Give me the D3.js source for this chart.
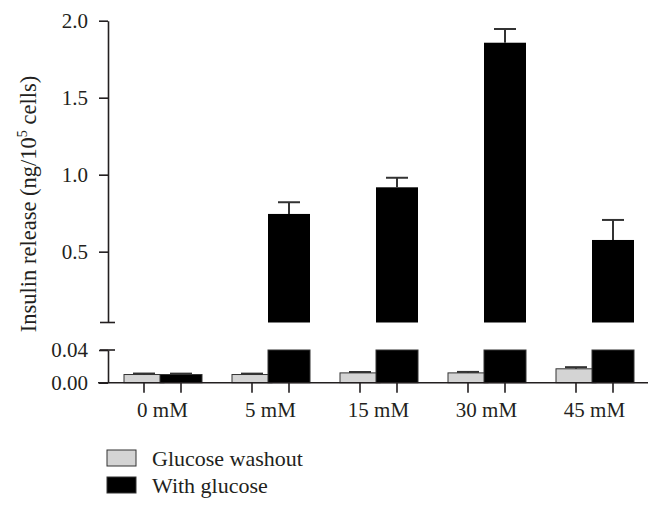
<!DOCTYPE html>
<html>
<head>
<meta charset="utf-8">
<script src="https://cdn.jsdelivr.net/npm/d3@7"></script>
<style>
  body { margin: 0; background: #fff; }
  svg text { font-family: "Liberation Serif", "Times New Roman", serif; fill: #231f20; }
</style>
</head>
<body>
<div id="chart"></div>
<script>
// groups on the x axis
var categories = ['0 mM', '5 mM', '15 mM', '30 mM', '45 mM'];
var seriesNames = ['Glucose washout', 'With glucose'];
// means and upper error (SEM), ng/10^5 cells
var washoutMean = [0.010, 0.010, 0.012, 0.012, 0.017];
var washoutErr = [0.0012, 0.0011, 0.0011, 0.0012, 0.002];
var glucoseMean = [0.010, 0.745, 0.918, 1.857, 0.576];
var glucoseErr = [0.0011, 0.076, 0.062, 0.089, 0.130];
// ticks of the two parts of the broken y axis
var upperTicks = [0.5, 1.0, 1.5, 2.0];
var lowerTicks = [0.00, 0.04];

var width = 662, height = 513;
var axisX = 108;
var breakAt = 0.04;

var svg = d3.select('#chart').append('svg')
  .attr('width', width)
  .attr('height', height);

// scales
var x = d3.scaleBand().domain(categories).range([108.5, 648.5]);
var xSub = d3.scaleBand().domain(seriesNames).range([-37, 37]);
var yTop = d3.scaleLinear().domain([breakAt, 2.0]).range([322.5, 20.7]);
var yBot = d3.scaleLinear().domain([0, breakAt]).range([382.7, 350]);
var fills = ['#d4d4d4', '#000000'];
var barW = [40, 42];

function subCenter(cat, s) {
  return x(cat) + x.bandwidth() / 2 + xSub(s) + xSub.bandwidth() / 2;
}

var rows = [];
categories.forEach(function (c, i) {
  rows.push({ cat: c, s: 0, v: washoutMean[i], e: washoutErr[i] });
  rows.push({ cat: c, s: 1, v: glucoseMean[i], e: glucoseErr[i] });
});

// bars in the lower part (clipped at the break)
svg.append('g').selectAll('rect')
  .data(rows)
  .enter().append('rect')
    .attr('x', function (d) { return subCenter(d.cat, seriesNames[d.s]) - barW[d.s] / 2; })
    .attr('y', function (d) { return yBot(Math.min(d.v, breakAt)); })
    .attr('width', function (d) { return barW[d.s]; })
    .attr('height', function (d) { return yBot(0) - yBot(Math.min(d.v, breakAt)); })
    .attr('fill', function (d) { return fills[d.s]; })
    .attr('stroke', '#333')
    .attr('stroke-width', 1);

// bars in the upper part (only the ones that cross the break)
var tall = rows.filter(function (d) { return d.v > breakAt; });
svg.append('g').selectAll('rect')
  .data(tall)
  .enter().append('rect')
    .attr('x', function (d) { return subCenter(d.cat, seriesNames[d.s]) - barW[d.s] / 2; })
    .attr('y', function (d) { return yTop(d.v); })
    .attr('width', function (d) { return barW[d.s]; })
    .attr('height', function (d) { return yTop(breakAt) - yTop(d.v); })
    .attr('fill', function (d) { return fills[d.s]; });

// error bars (upward only)
var errG = svg.append('g').attr('stroke', '#333').attr('stroke-width', 2);
rows.forEach(function (d) {
  var y = d.v > breakAt ? yTop : yBot;
  var cx = subCenter(d.cat, seriesNames[d.s]);
  errG.append('line')
    .attr('x1', cx).attr('x2', cx)
    .attr('y1', y(d.v)).attr('y2', y(d.v + d.e));
  errG.append('line')
    .attr('x1', cx - 11).attr('x2', cx + 11)
    .attr('y1', y(d.v + d.e)).attr('y2', y(d.v + d.e));
});

// y axes
var gTop = svg.append('g')
  .attr('transform', 'translate(' + axisX + ',0)')
  .call(d3.axisLeft(yTop).tickValues(upperTicks).tickFormat(d3.format('.1f'))
    .tickSize(9).tickSizeOuter(0).tickPadding(11));
var gBot = svg.append('g')
  .attr('transform', 'translate(' + axisX + ',0)')
  .call(d3.axisLeft(yBot).tickValues(lowerTicks).tickFormat(d3.format('.2f'))
    .tickSize(9).tickSizeOuter(0).tickPadding(11));
[gTop, gBot].forEach(function (g) {
  g.selectAll('path, line').attr('stroke', '#231f20').attr('stroke-width', 1.6);
  g.selectAll('text').attr('font-size', 21).attr('fill', '#231f20')
    .style('font-family', '"Liberation Serif", serif');
});
// caps at both ends of the axis break
svg.append('g').attr('stroke', '#231f20').attr('stroke-width', 1.6)
  .selectAll('line')
  .data([yTop(breakAt), yBot(breakAt)])
  .enter().append('line')
    .attr('x1', 100).attr('x2', 115)
    .attr('y1', function (d) { return d; })
    .attr('y2', function (d) { return d; });

// x axis: base line, one tick under each bar, label under each group
var gx = svg.append('g').attr('stroke', '#231f20').attr('stroke-width', 1.6);
gx.append('line')
  .attr('x1', 98).attr('x2', 648)
  .attr('y1', yBot(0)).attr('y2', yBot(0));
gx.selectAll('.xtick')
  .data(rows)
  .enter().append('line')
    .attr('class', 'xtick')
    .attr('x1', function (d) { return subCenter(d.cat, seriesNames[d.s]); })
    .attr('x2', function (d) { return subCenter(d.cat, seriesNames[d.s]); })
    .attr('y1', yBot(0)).attr('y2', yBot(0) + 10);
svg.append('g').selectAll('text')
  .data(categories)
  .enter().append('text')
    .attr('x', function (d) { return x(d) + x.bandwidth() / 2; })
    .attr('y', 417)
    .attr('text-anchor', 'middle')
    .attr('font-size', 21)
    .text(function (d) { return d; });

// y axis title with superscript
var title = svg.append('text')
  .attr('transform', 'translate(36,204) rotate(-90)')
  .attr('text-anchor', 'middle')
  .attr('font-size', 22.5);
title.append('tspan').text('Insulin release (ng/10');
title.append('tspan').attr('font-size', 14).attr('dy', -9).text('5');
title.append('tspan').attr('dy', 9).text(' cells)');

// legend
var legend = svg.append('g').selectAll('g')
  .data(seriesNames)
  .enter().append('g')
    .attr('transform', function (d, i) { return 'translate(107,' + (450 + i * 27) + ')'; });
legend.append('rect')
  .attr('width', 29).attr('height', 16)
  .attr('fill', function (d, i) { return fills[i]; })
  .attr('stroke', '#333').attr('stroke-width', 1);
legend.append('text')
  .attr('x', 45).attr('y', 16)
  .attr('font-size', 22)
  .text(function (d) { return d; });
</script>
</body>
</html>
